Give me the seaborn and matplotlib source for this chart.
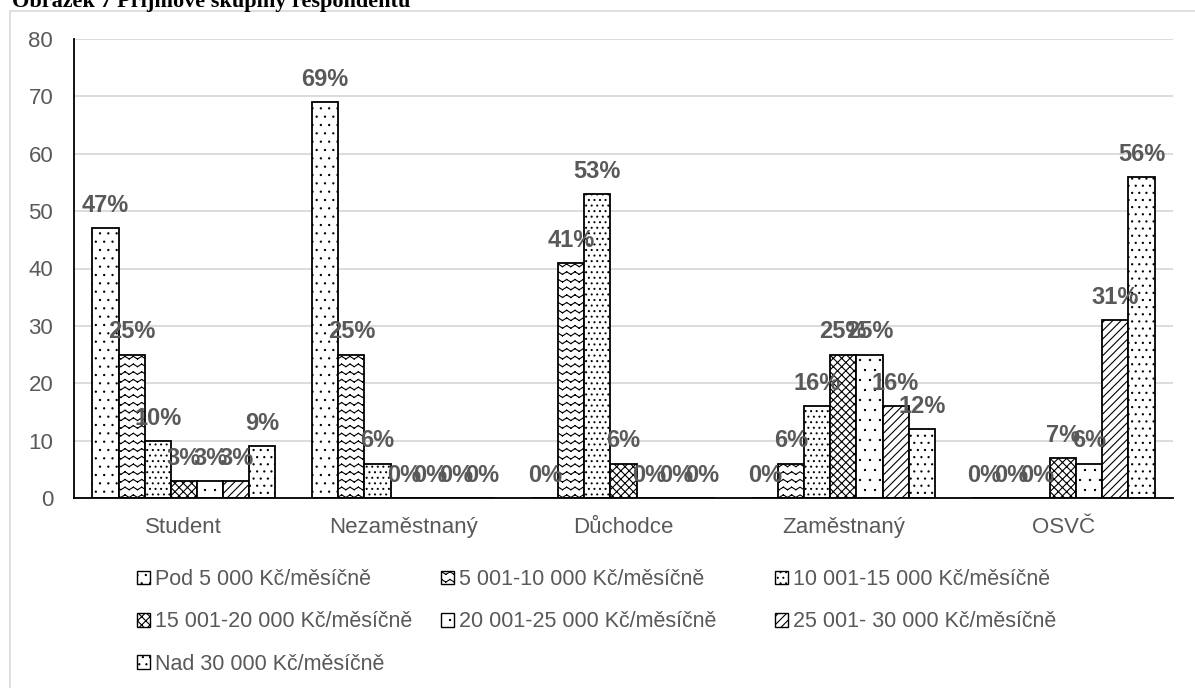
import numpy as np
import pandas as pd
import matplotlib
matplotlib.use("Agg")
import matplotlib.pyplot as plt
import matplotlib.hatch as mhatch
import matplotlib.patches as mpatches
from matplotlib.path import Path
import seaborn as sns
import warnings
warnings.filterwarnings("ignore")

# ---------------- data ----------------
title = "Obrázek 7 Příjmové skupiny respondentů"
categories = ["Student", "Nezaměstnaný", "Důchodce", "Zaměstnaný", "OSVČ"]
income_groups = [
    "Pod 5 000 Kč/měsíčně",
    "5 001-10 000 Kč/měsíčně",
    "10 001-15 000 Kč/měsíčně",
    "15 001-20 000 Kč/měsíčně",
    "20 001-25 000 Kč/měsíčně",
    "25 001- 30 000 Kč/měsíčně",
    "Nad 30 000 Kč/měsíčně",
]
pod_5000 = [47, 69, 0, 0, 0]
r_5001_10000 = [25, 25, 41, 6, 0]
r_10001_15000 = [10, 6, 53, 16, 0]
r_15001_20000 = [3, 0, 6, 25, 7]
r_20001_25000 = [3, 0, 0, 25, 6]
r_25001_30000 = [3, 0, 0, 16, 31]
nad_30000 = [9, 0, 0, 12, 56]
series_values = [pod_5000, r_5001_10000, r_10001_15000, r_15001_20000,
                 r_20001_25000, r_25001_30000, nad_30000]
y_ticks = [0, 10, 20, 30, 40, 50, 60, 70, 80]

# ---------------- custom hatch patterns ----------------
class WaveHatch(mhatch.HatchPatternBase):
    def __init__(self, hatch, density):
        self.rows = 13 if "w" in hatch else 0
        self.periods = 12
        self.num_vertices = self.rows * self.periods * 2 * 2

    def set_vertices_and_codes(self, vertices, codes):
        amp = 0.013
        n = 2 * self.periods
        xs = np.linspace(0, 1, n + 1)
        offs = np.where(np.arange(n + 1) % 2 == 0, amp, -amp)
        ys = (np.arange(self.rows) + 0.5) / self.rows
        pts = []
        for y in ys:
            for k in range(n):
                pts.append((xs[k], y + offs[k]))
                pts.append((xs[k + 1], y + offs[k + 1]))
        vertices[:] = np.array(pts)
        codes[0::2] = Path.MOVETO
        codes[1::2] = Path.LINETO


def make_dots(char, rows, size):
    class Dots(mhatch.Shapes):
        filled = True

        def __init__(self, hatch, density):
            self.num_rows = rows if char in hatch else 0
            self.size = size
            p = Path.unit_circle()
            self.shape_vertices = p.vertices
            self.shape_codes = p.codes
            super().__init__(hatch, density)
    return Dots


mhatch._hatch_types.append(WaveHatch)
mhatch._hatch_types.append(make_dots("a", 12, 0.07))
mhatch._hatch_types.append(make_dots("b", 18, 0.09))
mhatch._hatch_types.append(make_dots("c", 10, 0.06))
mhatch._hatch_types.append(make_dots("d", 14, 0.08))

hatches = ["a", "w", "b", "xxxx", "c", "////", "d"]

# ---------------- style ----------------
sns.set_style("white")
plt.rcParams["font.family"] = ["Liberation Sans", "DejaVu Sans"]
plt.rcParams["hatch.linewidth"] = 0.8
plt.rcParams["hatch.color"] = "black"
grey_text = "#595959"

df = pd.DataFrame({
    "kategorie": np.repeat([categories], len(income_groups), axis=0).ravel(),
    "skupina": np.repeat(income_groups, len(categories)),
    "hodnota": np.concatenate(series_values),
})

fig = plt.figure(figsize=(11.95, 6.88), dpi=100)
fig.patch.set_facecolor("white")
ax = fig.add_axes([74 / 1195, 1 - 498 / 688, (1173 - 74) / 1195, (498 - 39) / 688])

sns.barplot(data=df, x="kategorie", y="hodnota", hue="skupina",
            order=categories, hue_order=income_groups,
            palette=["white"] * len(income_groups), width=0.833,
            edgecolor="black", linewidth=1.3, saturation=1,
            legend=False, ax=ax)

for cont, h, vals in zip(ax.containers, hatches, series_values):
    for p in cont.patches:
        p.set_hatch(h)
        p.set_facecolor("white")
        p.set_edgecolor("black")
    ax.bar_label(cont, labels=[f"{v}%" for v in vals], padding=8,
                 fontsize=17, fontweight="bold", color=grey_text)

ax.set_xlim(-0.5, 4.5)
ax.set_ylim(0, 80)
ax.set_yticks(y_ticks)
ax.set_xlabel("")
ax.set_ylabel("")
ax.yaxis.grid(True, color="#d9d9d9", linewidth=1.3)
ax.set_axisbelow(True)
for s in ["top", "right"]:
    ax.spines[s].set_visible(False)
for s in ["left", "bottom"]:
    ax.spines[s].set_color("black")
    ax.spines[s].set_linewidth(1.3)
ax.tick_params(axis="both", length=0, labelsize=16, labelcolor=grey_text)
ax.tick_params(axis="y", pad=15)
ax.tick_params(axis="x", pad=14)

# ---------------- legend (3 columns, row-wise order) ----------------
handles = [mpatches.Patch(facecolor="white", edgecolor="black", hatch=h, linewidth=1.0)
           for h in hatches]
col_idx = [[0, 3, 6], [1, 4], [2, 5]]
col_x = [137, 441, 775]
for xs, idx in zip(col_x, col_idx):
    fig.legend([handles[i] for i in idx], [income_groups[i] for i in idx],
               loc="upper left", bbox_to_anchor=(xs / 1195, 1 - 569 / 688),
               bbox_transform=fig.transFigure, frameon=False,
               fontsize=15.5, labelcolor=grey_text, borderpad=0, borderaxespad=0,
               handlelength=0.6, handleheight=0.6, handletextpad=0.25,
               labelspacing=0.99)

# ---------------- frame and title ----------------
frame = mpatches.Rectangle((10 / 1195, -0.05), 1.2, 1.05 - 11 / 688,
                           transform=fig.transFigure, fill=False,
                           edgecolor="#d9d9d9", linewidth=1.2)
fig.add_artist(frame)
fig.text(12 / 1195, 1 - 7 / 688, title, fontsize=16, fontweight="bold",
         family=["Liberation Serif", "DejaVu Serif"], color="black", va="baseline")

fig.savefig("out.png", dpi=100, facecolor="white")
